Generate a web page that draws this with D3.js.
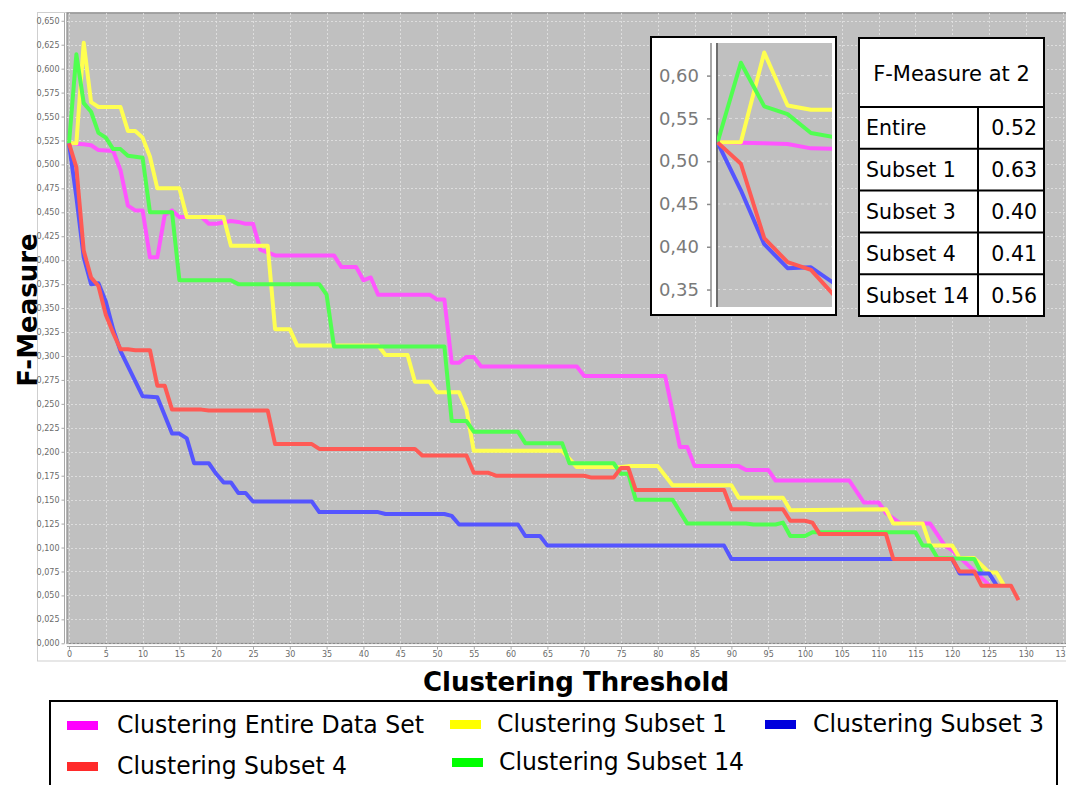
<!DOCTYPE html>
<html>
<head>
<meta charset="utf-8">
<script src="https://cdn.jsdelivr.net/npm/d3@7"></script>
<style>
  html, body { margin: 0; padding: 0; background: #fff; }
  svg { display: block; }
</style>
</head>
<body>
<svg id="chart" width="1066" height="785"></svg>
<script>
// ---- data: F-Measure per clustering threshold (vertices of each curve) ----
const entireData = [[0,0.522],[2,0.521],[3,0.520],[4,0.515],[6,0.514],[7,0.494],[8,0.457],[9,0.452],[10,0.452],[11,0.403],[12,0.403],[13,0.447],[14,0.452],[15,0.445],[18,0.445],[19,0.438],[20,0.438],[22,0.441],[23,0.440],[24,0.438],[25,0.438],[26,0.411],[28,0.405],[36,0.405],[37,0.393],[39,0.393],[40,0.379],[41,0.382],[42,0.364],[49,0.364],[50,0.359],[51,0.359],[52,0.293],[53,0.293],[54,0.299],[55,0.299],[56,0.289],[69,0.289],[70,0.279],[81,0.279],[83,0.205],[84,0.205],[85,0.185],[91,0.185],[92,0.181],[95,0.181],[96,0.170],[106,0.170],[108,0.147],[110,0.147],[111,0.136],[113,0.125],[117,0.125],[119,0.102],[120,0.097],[125,0.061]];
const subset1Data = [[0,0.522],[1,0.522],[2,0.627],[3,0.565],[4,0.560],[7,0.560],[8,0.535],[9,0.535],[10,0.528],[11,0.508],[12,0.475],[15,0.475],[16,0.445],[21,0.445],[22,0.415],[27,0.415],[28,0.328],[30,0.328],[31,0.311],[42,0.311],[43,0.301],[46,0.301],[47,0.273],[49,0.273],[50,0.262],[53,0.262],[54,0.244],[55,0.201],[67,0.201],[69,0.184],[75,0.184],[76,0.185],[80,0.185],[82,0.165],[90,0.165],[91,0.152],[97,0.152],[98,0.139],[111,0.140],[112,0.125],[116,0.125],[117,0.102],[120,0.102],[121,0.089],[123,0.089],[125,0.074],[126,0.074],[127,0.061]];
const subset3Data = [[0,0.522],[1,0.466],[2,0.403],[3,0.375],[4,0.376],[5,0.357],[6,0.328],[7,0.305],[10,0.258],[12,0.257],[13,0.238],[14,0.219],[15,0.219],[16,0.214],[17,0.188],[19,0.188],[20,0.177],[21,0.168],[22,0.168],[23,0.157],[24,0.157],[25,0.148],[33,0.148],[34,0.137],[42,0.137],[43,0.135],[51,0.135],[52,0.133],[53,0.124],[61,0.124],[62,0.112],[64,0.112],[65,0.102],[89,0.102],[90,0.088],[120,0.088],[121,0.073],[125,0.073],[126,0.061]];
const subset4Data = [[0,0.522],[1,0.497],[2,0.410],[3,0.382],[4,0.373],[5,0.343],[6,0.324],[7,0.307],[8,0.307],[9,0.306],[11,0.306],[12,0.269],[13,0.269],[14,0.244],[18,0.244],[19,0.243],[27,0.243],[28,0.208],[33,0.208],[34,0.203],[47,0.203],[48,0.196],[54,0.196],[55,0.178],[57,0.178],[58,0.175],[70,0.175],[71,0.173],[74,0.173],[75,0.183],[76,0.183],[77,0.160],[89,0.160],[90,0.140],[97,0.140],[98,0.128],[100,0.128],[101,0.126],[102,0.114],[111,0.114],[112,0.088],[120,0.088],[121,0.075],[123,0.075],[124,0.060],[128,0.060],[129,0.045]];
const subset14Data = [[0,0.522],[1,0.615],[2,0.564],[3,0.555],[4,0.533],[5,0.528],[6,0.516],[7,0.516],[8,0.509],[10,0.507],[11,0.450],[14,0.450],[15,0.379],[22,0.379],[23,0.375],[34,0.375],[35,0.364],[36,0.310],[51,0.310],[52,0.232],[54,0.232],[55,0.221],[61,0.221],[62,0.209],[67,0.209],[68,0.188],[74,0.188],[75,0.177],[76,0.177],[77,0.150],[82,0.150],[84,0.125],[92,0.125],[93,0.124],[96,0.124],[97,0.126],[98,0.112],[100,0.112],[101,0.116],[115,0.116],[116,0.102],[117,0.102],[118,0.089],[123,0.088],[124,0.073]];

const seriesNames = ["Clustering Entire Data Set", "Clustering Subset 1", "Clustering Subset 3", "Clustering Subset 4", "Clustering Subset 14"];
const tableLabels = ["Entire", "Subset 1", "Subset 3", "Subset 4", "Subset 14"];
const tableTitle = "F-Measure at 2";
const tableThreshold = 2;
const xTicks = [0,5,10,15,20,25,30,35,40,45,50,55,60,65,70,75,80,85,90,95,100,105,110,115,120,125,130,135];
const yTicks = [0,0.025,0.05,0.075,0.1,0.125,0.15,0.175,0.2,0.225,0.25,0.275,0.3,0.325,0.35,0.375,0.4,0.425,0.45,0.475,0.5,0.525,0.55,0.575,0.6,0.625,0.65];
const insetYTicks = [0.35,0.40,0.45,0.50,0.55,0.60];

const allSeries = [entireData, subset1Data, subset3Data, subset4Data, subset14Data];
const lineColors = ["#ff55ff", "#ffff50", "#5555ff", "#ff5a55", "#50ff50"];
const swatchColors = ["#ff00ff", "#ffff00", "#0000dd", "#ff2a2a", "#00ff00"];
const drawOrder = [0, 1, 4, 2, 3];

const svg = d3.select("#chart");
svg.append("rect").attr("width", 1066).attr("height", 785).attr("fill", "#fff");

// ---- main plot geometry ----
const plot = { left: 67, top: 13, right: 1070, bottom: 643.5 };
const x = d3.scaleLinear().domain([0, 136]).range([69, 69 + 136 * 7.36]);
const y = d3.scaleLinear().domain([0, 0.6578]).range([643.3, 13.3]);

// chart panel frame
svg.append("rect").attr("x", 37.5).attr("y", 12.5).attr("width", 1040).attr("height", 648.5)
  .attr("fill", "none").attr("stroke", "#cfcfcf").attr("stroke-width", 1);

svg.append("defs").append("clipPath").attr("id", "plotClip")
  .append("rect").attr("x", plot.left).attr("y", plot.top)
  .attr("width", plot.right - plot.left).attr("height", plot.bottom - plot.top);

svg.append("rect").attr("x", plot.left).attr("y", plot.top)
  .attr("width", plot.right - plot.left).attr("height", plot.bottom - plot.top)
  .attr("fill", "#c0c0c0").attr("stroke", "#8a8a8a").attr("stroke-width", 1.2);

const grid = svg.append("g").attr("clip-path", "url(#plotClip)")
  .attr("stroke", "#e4e4e4").attr("stroke-width", 0.8).attr("stroke-dasharray", "2,2");
grid.selectAll(".hg").data(yTicks).enter().append("line")
  .attr("x1", plot.left).attr("x2", plot.right)
  .attr("y1", d => Math.round(y(d)) + 0.5).attr("y2", d => Math.round(y(d)) + 0.5);
grid.selectAll(".vg").data(xTicks).enter().append("line")
  .attr("y1", plot.top).attr("y2", plot.bottom)
  .attr("x1", d => Math.round(x(d)) + 0.5).attr("x2", d => Math.round(x(d)) + 0.5);

const commaFmt = digits => d => d.toFixed(digits).replace(".", ",");

const yAxis = svg.append("g").attr("transform", "translate(64.5,0)")
  .call(d3.axisLeft(y).tickValues(yTicks).tickFormat(commaFmt(3)).tickSize(3).tickPadding(2));
const xAxis = svg.append("g").attr("transform", "translate(0,646.5)")
  .call(d3.axisBottom(x).tickValues(xTicks).tickFormat(d3.format("d")).tickSize(3).tickPadding(2));
[yAxis, xAxis].forEach(a => {
  a.selectAll("path,line").attr("stroke", "#a8a8a8");
  a.selectAll("text").attr("fill", "#6a6a6a").style("font-family", "DejaVu Sans").style("font-size", "8px");
});
yAxis.select(".domain").attr("d", "M0," + plot.bottom + "V" + plot.top);
xAxis.select(".domain").attr("d", "M" + plot.left + ",0H" + plot.right);

// ---- series lines ----
const line = d3.line().x(d => x(d[0])).y(d => y(d[1]));
const lines = svg.append("g").attr("clip-path", "url(#plotClip)");
drawOrder.forEach(i => {
  lines.append("path").datum(allSeries[i]).attr("d", line)
    .attr("fill", "none").attr("stroke", lineColors[i]).attr("stroke-width", 4)
    .attr("stroke-linejoin", "round");
});

// ---- axis titles ----
svg.append("text").attr("transform", "translate(37,310) rotate(-90)")
  .attr("text-anchor", "middle").style("font-family", "DejaVu Sans").style("font-weight", "bold")
  .style("font-size", "26px").attr("fill", "#000").text("F-Measure");
svg.append("text").attr("x", 576).attr("y", 691).attr("text-anchor", "middle")
  .style("font-family", "DejaVu Sans").style("font-weight", "bold").style("font-size", "26px")
  .attr("fill", "#000").text("Clustering Threshold");

// ---- inset: detail of the first thresholds ----
const inset = svg.append("g");
inset.append("rect").attr("x", 651).attr("y", 37).attr("width", 185).attr("height", 278)
  .attr("fill", "#fff").attr("stroke", "#000").attr("stroke-width", 2);
const ip = { left: 717, top: 43, right: 832, bottom: 307 };
const ix = d3.scaleLinear().domain([0, 4.9]).range([ip.left + 0.5, ip.right]);
const iy = d3.scaleLinear().domain([0.3296, 0.6381]).range([ip.bottom, ip.top]);
inset.append("clipPath").attr("id", "insetClip").append("rect")
  .attr("x", ip.left).attr("y", ip.top).attr("width", ip.right - ip.left).attr("height", ip.bottom - ip.top);
inset.append("rect").attr("x", ip.left).attr("y", ip.top).attr("width", ip.right - ip.left)
  .attr("height", ip.bottom - ip.top).attr("fill", "#c0c0c0");
inset.append("g").attr("stroke", "#e4e4e4").attr("stroke-width", 0.8).attr("stroke-dasharray", "3,3")
  .selectAll("line").data(insetYTicks).enter().append("line")
  .attr("x1", ip.left).attr("x2", ip.right).attr("y1", d => iy(d)).attr("y2", d => iy(d));
inset.append("line").attr("x1", ip.left).attr("x2", ip.left).attr("y1", ip.top).attr("y2", ip.bottom)
  .attr("stroke", "#6e6e6e").attr("stroke-width", 2);
const iAxis = inset.append("g").attr("transform", "translate(711,0)")
  .call(d3.axisLeft(iy).tickValues(insetYTicks).tickFormat(commaFmt(2)).tickSize(4).tickPadding(8));
iAxis.selectAll("path,line").attr("stroke", "#8a8a8a").attr("stroke-width", 1.5);
iAxis.select(".domain").attr("d", "M0," + ip.bottom + "V" + ip.top);
iAxis.selectAll("text").attr("fill", "#7a7a7a").style("font-family", "DejaVu Sans").style("font-size", "18px");
const iline = d3.line().x(d => ix(d[0])).y(d => iy(d[1]));
const ilines = inset.append("g").attr("clip-path", "url(#insetClip)");
drawOrder.forEach(i => {
  ilines.append("path").datum(allSeries[i]).attr("d", iline)
    .attr("fill", "none").attr("stroke", lineColors[i]).attr("stroke-width", 4)
    .attr("stroke-linejoin", "round");
});

// ---- table: F-Measure at threshold 2 ----
const tableValues = allSeries.map(s => s.find(p => p[0] === tableThreshold)[1].toFixed(2));
const tb = { left: 859, right: 1044, top: 38, head: 107, bottom: 316, split: 978 };
const rowH = (tb.bottom - tb.head) / tableLabels.length;
const table = svg.append("g");
table.append("rect").attr("x", tb.left).attr("y", tb.top).attr("width", tb.right - tb.left)
  .attr("height", tb.bottom - tb.top).attr("fill", "#fff").attr("stroke", "#000").attr("stroke-width", 2);
table.append("text").attr("x", (tb.left + tb.right) / 2).attr("y", (tb.top + tb.head) / 2 + 8)
  .attr("text-anchor", "middle").style("font-family", "DejaVu Sans").style("font-size", "21px")
  .attr("fill", "#000").text(tableTitle);
table.append("line").attr("x1", tb.split).attr("x2", tb.split).attr("y1", tb.head).attr("y2", tb.bottom)
  .attr("stroke", "#000").attr("stroke-width", 2);
tableLabels.forEach((lab, i) => {
  const top = tb.head + i * rowH;
  table.append("line").attr("x1", tb.left).attr("x2", tb.right).attr("y1", top).attr("y2", top)
    .attr("stroke", "#000").attr("stroke-width", 2);
  table.append("text").attr("x", 866).attr("y", top + rowH / 2 + 7.5)
    .style("font-family", "DejaVu Sans").style("font-size", "20.5px").attr("fill", "#000").text(lab);
  table.append("text").attr("x", 1037).attr("y", top + rowH / 2 + 7.5).attr("text-anchor", "end")
    .style("font-family", "DejaVu Sans").style("font-size", "20.5px").attr("fill", "#000").text(tableValues[i]);
});

// ---- legend ----
const legend = svg.append("g");
legend.append("rect").attr("x", 50).attr("y", 701).attr("width", 1007).attr("height", 100)
  .attr("fill", "#fff").attr("stroke", "#000").attr("stroke-width", 2);
const legendPos = [
  { sx: 67, sy: 721, tx: 117, ty: 733, w: 307 },
  { sx: 450, sy: 720, tx: 497, ty: 732, w: 230 },
  { sx: 765, sy: 720, tx: 813, ty: 732, w: 231 },
  { sx: 67, sy: 762, tx: 117, ty: 774, w: 230 },
  { sx: 452, sy: 758, tx: 499, ty: 770, w: 245 }
];
seriesNames.forEach((name, i) => {
  const p = legendPos[i];
  legend.append("rect").attr("x", p.sx).attr("y", p.sy).attr("width", 31).attr("height", 9)
    .attr("fill", swatchColors[i]);
  legend.append("text").attr("x", p.tx).attr("y", p.ty)
    .attr("textLength", p.w).attr("lengthAdjust", "spacingAndGlyphs")
    .style("font-family", "DejaVu Sans").style("font-size", "24px").attr("fill", "#000").text(name);
});
</script>
</body>
</html>
